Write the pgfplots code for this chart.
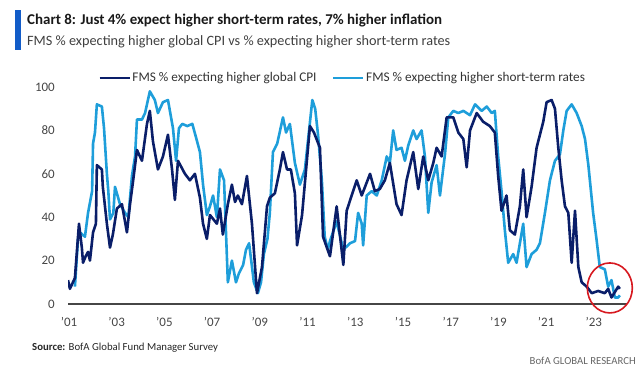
\documentclass[border=0pt]{standalone}
\usepackage{fontspec}
\setmainfont{Carlito}
\usepackage{pgfplots}
\pgfplotsset{compat=1.18}
\definecolor{navy}{RGB}{10,30,105}
\definecolor{sky}{RGB}{30,158,218}
\definecolor{barblue}{RGB}{18,92,200}
\definecolor{tickgray}{RGB}{70,70,70}
\definecolor{circred}{RGB}{215,25,32}

\pgfplotstableread{
x y
2000.96 11
2001.04 7
2001.25 12
2001.42 37
2001.54 26
2001.59 19
2001.70 22
2001.80 24
2001.88 20
2002.01 33
2002.13 37
2002.17 64
2002.38 62
2002.42 54
2002.59 37
2002.72 26
2002.84 32
2003.01 44
2003.22 46
2003.43 33
2003.56 46
2003.68 56
2003.85 71
2004.06 66
2004.27 83
2004.39 89
2004.52 75
2004.73 62
2004.94 68
2005.15 78
2005.32 62
2005.44 48
2005.57 66
2005.86 60
2006.07 57
2006.28 60
2006.49 49
2006.62 37
2006.78 30
2006.91 41
2007.20 37
2007.33 44
2007.45 32
2007.66 46
2007.83 55
2007.96 47
2008.08 50
2008.25 46
2008.46 59
2008.67 37
2008.88 5
2009.09 17
2009.30 45
2009.42 49
2009.63 51
2009.84 62
2009.97 70
2010.14 62
2010.30 62
2010.47 51
2010.56 27
2010.77 41
2011.10 82
2011.27 79
2011.52 72
2011.65 31
2011.81 26
2011.94 22
2012.22 45
2012.50 18
2012.64 43
2012.85 50
2013.06 57
2013.27 50
2013.62 60
2013.82 52
2014.03 53
2014.24 57
2014.45 65
2014.73 46
2014.94 41
2015.15 57
2015.43 70
2015.64 53
2015.85 68
2016.06 57
2016.27 65
2016.41 72
2016.62 68
2016.83 86
2017.11 86
2017.32 79
2017.53 76
2017.67 63
2017.81 80
2018.09 88
2018.36 84
2018.64 82
2018.85 79
2018.99 59
2019.13 43
2019.34 50
2019.48 34
2019.69 32
2019.90 45
2020.04 62
2020.18 40
2020.39 54
2020.60 72
2020.88 84
2021.02 93
2021.23 94
2021.37 90
2021.51 72
2021.65 57
2021.79 45
2021.93 42
2022.07 19
2022.21 43
2022.35 17
2022.49 10
2022.70 8
2022.91 5
2023.18 6
2023.46 5
2023.60 7
2023.74 3
2024.02 8
2024.09 7
}\cpi

\pgfplotstableread{
x y
2001.25 8
2001.38 30
2001.46 33
2001.67 31
2001.80 42
2001.97 52
2002.01 74
2002.09 79
2002.17 92
2002.38 91
2002.47 81
2002.59 60
2002.65 52
2002.72 39
2002.86 42
2002.93 54
2003.14 46
2003.35 42
2003.49 40
2003.64 59
2003.77 68
2003.85 85
2004.06 85
2004.19 88
2004.39 98
2004.60 94
2004.73 88
2004.94 93
2005.15 94
2005.36 81
2005.49 66
2005.61 81
2005.75 83
2005.96 82
2006.17 83
2006.32 77
2006.49 70
2006.62 55
2006.78 41
2006.91 45
2007.04 50
2007.20 40
2007.33 62
2007.50 57
2007.66 10
2007.83 20
2008.00 10
2008.12 14
2008.30 18
2008.42 25
2008.55 28
2008.75 10
2008.92 5
2009.05 10
2009.17 23
2009.32 30
2009.42 42
2009.55 70
2009.73 74
2009.97 86
2010.10 79
2010.26 83
2010.47 65
2010.68 55
2010.89 62
2011.20 94
2011.32 90
2011.44 78
2011.60 57
2011.72 31
2011.85 25
2011.94 29
2012.22 38
2012.50 25
2012.78 28
2012.99 29
2013.12 42
2013.27 37
2013.33 27
2013.48 50
2013.69 52
2013.90 50
2014.11 57
2014.32 68
2014.45 65
2014.59 80
2014.73 71
2014.94 72
2015.08 66
2015.22 73
2015.43 80
2015.57 76
2015.78 80
2015.92 68
2016.06 42
2016.20 56
2016.41 64
2016.55 50
2016.76 69
2016.90 86
2017.11 89
2017.32 88
2017.53 89
2017.81 87
2018.02 92
2018.30 89
2018.51 91
2018.72 88
2018.85 89
2018.99 68
2019.13 52
2019.27 34
2019.41 19
2019.62 23
2019.76 19
2020.04 37
2020.18 17
2020.39 23
2020.60 25
2020.74 28
2020.95 42
2021.16 57
2021.37 66
2021.58 69
2021.72 80
2021.86 89
2022.07 92
2022.28 88
2022.49 82
2022.63 76
2022.77 64
2022.97 42
2023.11 30
2023.25 17
2023.46 16
2023.60 8
2023.74 11
2023.88 3
2024.02 3
2024.09 4
}\rates

\begin{document}
\begin{tikzpicture}[x=1bp,y=1bp]
\path[use as bounding box] (0,0) rectangle (640,374);
\fill[barblue] (15,324) rectangle (20.5,364);
\node[anchor=base west, inner sep=0pt, font=\fontsize{15}{17}\selectfont\bfseries, text=black!90] at (27,349.5)
  {Chart 8: Just 4\% expect higher short-term rates, 7\% higher inflation};
\node[anchor=base west, inner sep=0pt, font=\fontsize{14.3}{16}\selectfont, text=black!75] at (27,329)
  {FMS \% expecting higher global CPI vs \% expecting higher short-term rates};
\node[anchor=base west, inner sep=0pt, font=\fontsize{10.8}{12}\selectfont, text=black!85] at (32,23.5)
  {\textbf{Source:} BofA Global Fund Manager Survey};
\node[anchor=base east, inner sep=0pt, font=\fontsize{10.8}{12}\selectfont, text=black!60] at (636,9.5)
  {BofA GLOBAL RESEARCH};
\begin{axis}[
  at={(68bp,70bp)}, anchor=south west, scale only axis,
  width=559bp, height=217bp,
  xmin=2000.96, xmax=2024.39, ymin=0, ymax=100,
  axis line style={draw=none}, major tick length=0pt,
  xtick={2001,2003,...,2023},
  xticklabels={{'}01,{'}03,{'}05,{'}07,{'}09,{'}11,{'}13,{'}15,{'}17,{'}19,{'}21,{'}23},
  ytick={0,20,...,100},
  /pgf/number format/assume math mode=true,
  xticklabel style={anchor=base, inner sep=0pt, yshift=-22bp, font=\fontsize{13}{15}\selectfont, text=tickgray},
  yticklabel style={anchor=east, inner sep=0pt, xshift=-13bp, font=\fontsize{13}{15}\selectfont, text=tickgray},
  clip mode=individual,
  legend columns=2,
  legend cell align=left,
  legend style={at={(0.054,1.041)}, anchor=west, draw=none, fill=none, inner sep=0pt,
    font=\fontsize{13.3}{15}\selectfont, text=black!80,
    nodes={inner sep=1.5bp},
    /tikz/every even column/.append style={column sep=14bp}},
  legend image code/.code={\draw[#1] (0bp,0bp) -- (30bp,0bp);},
]
\draw[tickgray, line width=1.2bp] (rel axis cs:0,0) -- (rel axis cs:1,0);
\addlegendimage{navy, line width=2.6bp}
\addlegendentry{FMS \% expecting higher global CPI}
\addlegendimage{sky, line width=2.6bp}
\addlegendentry{FMS \% expecting higher short-term rates}
\addplot[sky, line width=2.6bp, line join=round, forget plot] table[x=x,y=y] {\rates};
\addplot[navy, line width=2.6bp, line join=round, forget plot] table[x=x,y=y] {\cpi};
\draw[circred, line width=1.6bp] (axis cs:2023.67,7.4) ellipse [x radius=22.5bp, y radius=25bp];
\end{axis}
\end{tikzpicture}
\end{document}
